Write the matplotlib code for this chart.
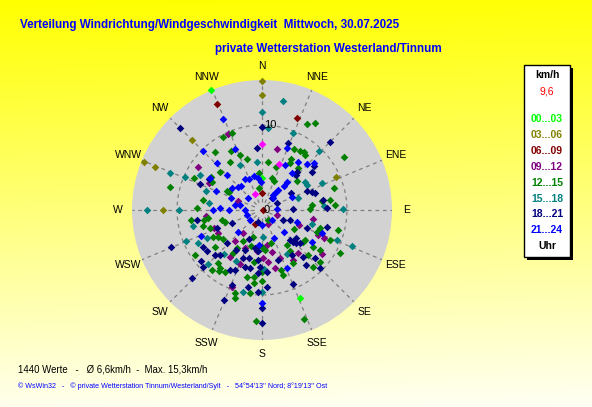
import numpy as np
import matplotlib
matplotlib.use('Agg')
from matplotlib import pyplot as plt
from matplotlib.patches import Rectangle

plt.rcParams['font.family'] = ['Liberation Sans', 'DejaVu Sans']

W, H = 592, 407

# (direction in degrees, speed in km/h) per time slot
pts_00_03 = [(337, 15.3), (0, 3.8), (157, 11.3)]
pts_03_06 = [(0, 15.2), (0, 13.5), (315, 11.6), (292, 15.0), (292, 13.6), (270, 11.6), (66, 9.5)]
pts_06_09 = [(337, 13.5), (21, 11.6), (0, 2.0), (90, 0.1), (207, 1.8)]
pts_09_12 = [(336, 9.8), (304, 9.1), (297, 7.0), (291, 3.0), (14, 7.4), (242, 5.8), (220, 3.5),
             (221, 4.8), (187, 4.9), (214, 6.7), (179, 5.6), (202, 6.9), (201, 9.7), (108, 1.9),
             (157, 1.8), (100, 6.1), (114, 8.0), (172, 4.2), (167, 5.1), (126, 8.8), (173, 6.2),
             (167, 7.0), (264, 6.6), (249, 6.0), (204, 4.9), (159, 6.0), (140, 6.6), (114, 7.2),
             (112, 4.7), (148, 6.9)]
pts_12_15 = [(339, 9.7), (332, 9.7), (332, 7.8), (338, 7.0), (344, 6.3), (321, 8.8), (326, 6.8),
             (312, 6.7), (295, 8.8), (303, 7.1), (299, 6.7), (355, 4.4), (352, 2.6), (284, 11.2),
             (298, 4.7), (299, 4.4), (280, 7.0), (272, 7.7),
             (28, 11.4), (31, 12.0), (28, 8.1), (33, 8.3), (36, 8.4), (38, 8.2), (57, 11.5),
             (7, 5.7), (18, 5.3), (31, 6.4), (30, 6.9), (41, 6.5), (17, 3.9), (22, 3.7), (50, 5.4),
             (73, 8.9), (84, 5.9), (82, 8.1), (81, 7.1),
             (262, 8.4), (260, 6.9), (262, 6.4), (255, 7.2), (251, 6.5), (256, 4.8), (252, 4.6),
             (241, 6.6), (238, 6.1), (233, 5.7), (211, 4.3), (198, 3.3), (232, 7.0), (213, 5.4),
             (197, 4.4), (180, 4.4), (236, 9.5), (214, 6.1), (189, 6.2), (220, 8.1), (216, 8.4),
             (220, 9.2), (215, 8.8), (211, 8.5), (193, 8.1), (187, 7.9), (186, 8.6), (197, 10.8),
             (188, 9.9), (183, 13.1), (198, 10.3),
             (89, 5.6), (86, 8.6), (149, 1.4), (107, 7.1), (105, 9.2), (121, 4.4), (112, 7.0),
             (128, 6.1), (125, 6.2), (114, 8.7), (165, 4.0), (144, 5.1), (146, 5.8), (126, 7.4),
             (125, 8.3), (119, 10.5), (176, 4.7), (134, 7.6), (150, 7.2), (138, 9.0), (180, 7.3),
             (162, 7.4), (162, 8.0), (180, 8.4), (159, 13.8), (132, 9.2)]
pts_15_18 = [(0, 11.5), (11, 13.1), (4, 9.7), (22, 9.8), (44, 9.6), (354, 5.7), (57, 6.0),
             (61, 6.1), (66, 7.7), (72, 4.5), (89, 9.5), (86, 7.3), (334, 5.9), (292, 11.7),
             (299, 8.4), (293, 9.8), (289, 7.0), (277, 6.3), (270, 13.5), (270, 9.8), (257, 8.3),
             (248, 9.7), (243, 7.3), (243, 8.5), (221, 6.9), (207, 6.8), (225, 9.0), (193, 9.9),
             (178, 3.2), (112, 9.5), (112, 11.4), (150, 6.0), (180, 9.6), (178, 6.9), (106, 6.1)]
pts_18_21 = [(315, 13.6), (0, 9.8), (355, 7.3), (300, 7.2), (293, 7.9), (45, 11.4), (21, 8.5),
             (50, 8.0), (43, 6.1), (44, 5.7), (53, 7.4), (40, 1.8), (67, 5.7), (70, 6.3), (72, 6.5),
             (60, 4.0), (65, 2.0), (88, 3.6), (81, 7.3), (88, 7.6),
             (261, 7.7), (248, 5.7), (247, 3.8), (198, 1.5), (204, 3.7), (248, 11.6), (238, 8.2),
             (227, 5.7), (233, 8.1), (213, 5.6), (203, 5.1), (190, 4.5), (226, 7.7), (223, 7.2),
             (202, 6.1), (195, 5.8), (185, 5.9), (230, 9.4), (197, 7.0), (192, 7.0), (226, 9.6),
             (208, 8.0), (204, 7.7), (226, 11.5), (184, 7.4), (202, 9.5), (190, 9.2), (183, 9.7),
             (203, 11.5),
             (115, 2.7), (110, 3.5), (112, 5.7), (105, 7.9), (137, 4.8), (129, 5.2), (185, 4.9),
             (146, 6.4), (139, 7.3), (132, 8.4), (162, 6.2), (141, 8.3), (135, 9.6), (182, 6.7),
             (175, 7.3), (176, 9.1), (157, 9.4), (180, 11.5), (180, 13.3), (134, 5.6), (131, 5.9),
             (136, 5.3)]
pts_21_24 = [(337, 11.6), (336, 7.8), (315, 9.8), (316, 7.7), (315, 5.8), (331, 4.2), (337, 4.0),
             (347, 4.1), (353, 3.8), (358, 3.3), (292, 5.9), (306, 4.4), (319, 3.8), (291, 3.9),
             (311, 2.2), (283, 2.7), (314, 3.9), (280, 3.2), (302, 7.2),
             (22, 7.9), (27, 6.0), (37, 7.1), (44, 7.6), (48, 8.2), (39, 5.6), (42, 4.4), (43, 3.8),
             (39, 3.0), (36, 2.2), (42, 1.9), (37, 2.5), (67, 3.8),
             (270, 5.8), (273, 4.9), (270, 3.9), (270, 2.0), (252, 1.9), (230, 1.8), (180, 1.8),
             (247, 7.8), (228, 3.8), (185, 4.1),
             (88, 1.8), (109, 4.4), (135, 3.7), (111, 7.6), (157, 3.6), (123, 7.0), (180, 10.9),
             (135, 1.7), (157, 7.4)]
pts_other = [(0, 7.8), (20, 5.8), (336, 2.1)]

groups = [
    ('00...03', '#00ff00', pts_00_03),
    ('03...06', '#808000', pts_03_06),
    ('06...09', '#800000', pts_06_09),
    ('09...12', '#800080', pts_09_12),
    ('12...15', '#008000', pts_12_15),
    ('15...18', '#008080', pts_15_18),
    ('18...21', '#000080', pts_18_21),
    ('21...24', '#0000ff', pts_21_24),
]

directions = ['N', 'NNE', 'NE', 'ENE', 'E', 'ESE', 'SE', 'SSE',
              'S', 'SSW', 'SW', 'WSW', 'W', 'WNW', 'NW', 'NNW']
r_max = 15.3


def fx(x):
    return x / W


def fy(y):
    return 1 - y / H


fig = plt.figure(figsize=(W / 100, H / 100), dpi=100)

# background gradient
bg = fig.add_axes([0, 0, 1, 1])
yy, xx = np.mgrid[0:H, 0:W]
t = np.clip(yy / H * 0.97 + xx / W * 0.03, 0, 1)
img = np.dstack([np.ones_like(t), np.ones_like(t), t * 0.96])
bg.imshow(img, aspect='auto', extent=[0, 1, 0, 1])
bg.axis('off')

# polar disc
cx, cy, rad = 262, 210, 130
ax = fig.add_axes([fx(cx - rad), fy(cy + rad), 2 * rad / W, 2 * rad / H], projection='polar')
ax.set_theta_zero_location('N')
ax.set_theta_direction(-1)
ax.set_ylim(0, r_max)
ax.set_facecolor('#d2d2d2')
ax.grid(False)
ax.set_xticks([])
ax.set_yticks([])
ax.spines['polar'].set_visible(False)

for i, name in enumerate(directions):
    th = np.radians(i * 22.5)
    ax.plot([th, th], [0.9, r_max], color='#808080', lw=0.9, ls=(0, (3, 3)), zorder=1)
    ax.text(th, 17.0, name, ha='center', va='center', fontsize=7.5, clip_on=False)

ring = np.linspace(0, 2 * np.pi, 200)
ax.plot(ring, np.full_like(ring, 10), color='#808080', lw=0.9, ls=(0, (3, 3)), zorder=1)
ax.text(np.radians(5.5), 10.0, '10', ha='center', va='center', fontsize=8, zorder=4)
ax.text(np.radians(90), 0.55, '0', ha='center', va='center', fontsize=8, zorder=4)

for label, col, pts in groups:
    d = np.radians([p[0] for p in pts])
    s = [p[1] for p in pts]
    ax.scatter(d, s, marker='D', s=15, c=col, lw=0, zorder=3, clip_on=False)
d = np.radians([p[0] for p in pts_other])
s = [p[1] for p in pts_other]
ax.scatter(d, s, marker='D', s=15, c='#ff00ff', lw=0, zorder=3)

# titles
fig.text(fx(20), fy(25), 'Verteilung Windrichtung/Windgeschwindigkeit  Mittwoch, 30.07.2025',
         color='#0000ff', fontsize=8.4, fontweight='bold', ha='left', va='center')
fig.text(fx(215), fy(49), 'private Wetterstation Westerland/Tinnum',
         color='#0000ff', fontsize=8.4, fontweight='bold', ha='left', va='center')

# legend box
fig.patches.append(Rectangle((fx(527), fy(260)), 46 / W, 192 / H, transform=fig.transFigure,
                             facecolor='black', edgecolor='none', zorder=5))
fig.patches.append(Rectangle((fx(524), fy(257)), 46 / W, 192 / H, transform=fig.transFigure,
                             facecolor='white', edgecolor='black', lw=1, zorder=6))
lx = fx(547)
fig.text(lx, fy(75), 'km/h', fontsize=7.5, fontweight='bold', ha='center', va='center', zorder=7)
fig.text(lx, fy(92), '9,6', color='#ff0000', fontsize=7.5, ha='center', va='center', zorder=7)
for i, (label, col, pts) in enumerate(groups):
    fig.text(lx, fy(119 + i * 15.9), label, color=col, fontsize=7.5, fontweight='bold',
             ha='center', va='center', zorder=7)
fig.text(lx, fy(246), 'Uhr', fontsize=7.5, fontweight='bold', ha='center', va='center', zorder=7)

# footer
fig.text(fx(18), fy(369), '1440 Werte   -   \u00d8 6,6km/h  -  Max. 15,3km/h',
         fontsize=6.9, ha='left', va='center')
fig.text(fx(18), fy(386), '\u00a9 WsWin32   -   \u00a9 private Wetterstation Tinnum/Westerland/Sylt'
         '   -   54\u00b054\'13\'\' Nord; 8\u00b019\'13\'\' Ost',
         color='#0000ff', fontsize=5.1, ha='left', va='center')

fig.savefig('out.png', dpi=100)
